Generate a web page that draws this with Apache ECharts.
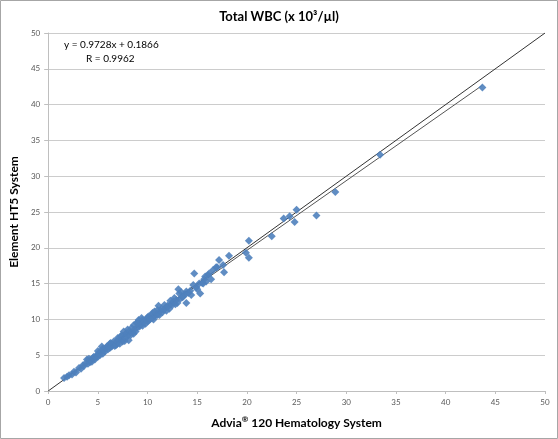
<!DOCTYPE html>
<html><head><meta charset="utf-8">
<script src="https://cdn.jsdelivr.net/npm/echarts@6/dist/echarts.min.js"></script>
<style>html,body{margin:0;padding:0;background:#fff}#c{width:558px;height:439px}</style>
</head><body><div id="c"></div>
<script>
var titleText = 'Total WBC (x 10\u00B3/\u00B5l)';
var xNameParts = ['Advia', '\u00AE', ' 120 Hematology System'];
var yName = 'Element HT5 System';
var eqText = 'y = 0.9728x + 0.1866';
var rText = 'R = 0.9962';
var axisTicks = [0, 5, 10, 15, 20, 25, 30, 35, 40, 45, 50];
var identityLine = [[0, 0], [50, 50]];
var regressionLine = [[1.6, 1.74], [43.7, 42.70]];
var points = [
[1.6,1.8],[1.9,2.0],[2.1,2.2],[2.4,2.3],[2.6,2.7],[2.8,2.6],[3.1,3.2],[3.3,3.1],[3.5,3.6],[3.6,3.5],
[3.8,3.9],[3.9,4.4],[4.0,3.8],[4.1,4.5],[4.2,4.0],[4.3,4.3],[4.4,4.1],[4.5,4.6],[4.6,4.8],[4.7,4.4],
[4.8,4.7],[4.9,5.0],[5.0,4.8],[5.0,5.6],[5.1,5.3],[5.2,5.0],[5.3,5.5],[5.4,6.2],[5.5,5.2],[5.5,5.9],
[5.6,5.7],[5.7,5.5],[5.8,6.0],[5.9,6.2],[6.0,5.8],[6.1,6.3],[6.2,6.0],[6.2,6.6],[6.3,6.7],[6.4,6.2],
[6.5,6.5],[6.6,6.9],[6.7,6.3],[6.8,6.4],[6.9,7.0],[6.9,6.5],[7.0,6.8],[7.0,7.4],[7.1,7.1],[7.2,6.6],
[7.3,7.6],[7.4,7.8],[7.5,7.2],[7.5,6.9],[7.6,8.3],[7.7,7.0],[7.8,7.4],[7.8,8.0],[7.9,8.1],[8.0,7.7],
[8.0,8.6],[8.1,7.1],[8.2,8.4],[8.3,7.8],[8.4,8.8],[8.5,8.2],[8.6,9.2],[8.6,8.0],[8.7,8.6],[8.8,8.3],
[8.9,9.5],[9.0,8.9],[9.0,9.6],[9.1,9.9],[9.2,9.0],[9.3,9.3],[9.4,10.2],[9.5,9.1],[9.5,9.9],[9.6,9.6],
[9.7,9.7],[9.8,9.4],[9.9,10.0],[10.0,9.7],[10.0,10.3],[10.1,10.4],[10.2,9.9],[10.3,10.1],[10.4,10.6],[10.5,10.2],
[10.5,10.9],[10.6,10.0],[10.7,11.1],[10.8,10.5],[10.9,10.8],[11.0,10.6],[11.0,11.3],[11.1,11.9],[11.2,10.6],[11.3,11.2],
[11.4,11.5],[11.5,11.0],[11.6,11.3],[11.7,12.0],[11.8,11.6],[11.9,11.2],[12.0,11.9],[12.1,11.8],[12.2,11.5],[12.3,12.6],
[12.4,12.2],[12.5,12.0],[12.6,12.5],[12.7,13.0],[12.8,12.1],[12.9,12.7],[13.0,12.3],[13.1,14.2],[13.2,13.6],[13.3,12.9],
[13.4,13.8],[13.5,13.1],[13.6,13.2],[13.8,13.5],[13.9,13.9],[13.9,12.3],[14.1,13.7],[14.3,14.0],[14.4,13.4],[14.6,14.8],
[14.7,16.4],[14.9,14.5],[15.0,14.2],[15.2,15.0],[15.3,13.6],[15.5,15.1],[15.6,15.0],[15.7,15.6],[15.8,16.0],[15.9,15.3],
[16.1,16.2],[16.2,16.4],[16.4,15.6],[16.6,16.9],[16.9,17.3],[17.0,17.3],[17.2,18.3],[17.6,17.6],[17.7,16.6],[18.2,18.9],
[19.9,19.3],[20.2,21.0],[20.2,18.6],[22.5,21.6],[23.7,24.1],[24.3,24.4],[24.8,23.6],[25.0,25.3],[27.0,24.5],[28.9,27.8],
[33.4,33.0],[43.7,42.4]
];

var chart = echarts.init(document.getElementById('c'));
var ff = 'Lato, "Open Sans", sans-serif';
var lblFont = {color:'#595959', fontSize:8, fontFamily:ff};
var nameStyle = {color:'#000', fontSize:12, fontWeight:'bold', fontFamily:ff};
chart.setOption({
  animation:false,
  backgroundColor:'#fff',
  title:{text:titleText, left:'center', top:5,
    textStyle:{fontSize:13, fontWeight:'bold', color:'#000', fontFamily:ff}},
  grid:{left:44, right:13, top:33, bottom:48, containLabel:false},
  xAxis:{type:'value', min:axisTicks[0], max:axisTicks[axisTicks.length-1], interval:5,
    name:'{a|' + xNameParts[0] + '}{s|' + xNameParts[1] + '}{a|' + xNameParts[2] + '}',
    nameLocation:'middle', nameGap:24,
    nameTextStyle:{rich:{
      a:{color:'#000', fontSize:12, fontWeight:'bold', fontFamily:ff, verticalAlign:'bottom', lineHeight:14},
      s:{color:'#000', fontSize:8, fontWeight:'bold', fontFamily:ff, verticalAlign:'top', lineHeight:14, padding:[0,0,6,0]}
    }},
    axisLine:{show:true, lineStyle:{color:'#bfbfbf'}},
    axisTick:{show:true, length:3, lineStyle:{color:'#bfbfbf'}},
    axisLabel:Object.assign({margin:7}, lblFont),
    splitLine:{show:false}},
  yAxis:{type:'value', min:axisTicks[0], max:axisTicks[axisTicks.length-1], interval:5,
    name:yName, nameLocation:'middle', nameGap:22, nameTextStyle:nameStyle,
    axisLine:{show:true, lineStyle:{color:'#bfbfbf'}},
    axisTick:{show:true, length:4, lineStyle:{color:'#bfbfbf'}},
    axisLabel:Object.assign({margin:8}, lblFont),
    splitLine:{show:true, lineStyle:{color:'#cccccc', width:1}}},
  graphic:[
    {type:'rect', shape:{x:0.5, y:0.5, width:557, height:438}, style:{fill:'none', stroke:'#a6a6a6', lineWidth:1}, silent:true},
    {type:'text', left:64, top:40, style:{text:eqText, fontSize:10, fill:'#000', fontFamily:ff}},
    {type:'text', left:86, top:54, style:{text:rText, fontSize:10, fill:'#000', fontFamily:ff}}
  ],
  series:[
    {type:'scatter', data:points, symbol:'diamond', symbolSize:8,
      itemStyle:{color:'#4f81bd', opacity:0.9}, z:3},
    {type:'line', data:identityLine, symbol:'none', lineStyle:{color:'#333333', width:1}, z:2},
    {type:'line', data:regressionLine, symbol:'none', lineStyle:{color:'#555555', width:1}, z:2}
  ]
});
</script></body></html>
